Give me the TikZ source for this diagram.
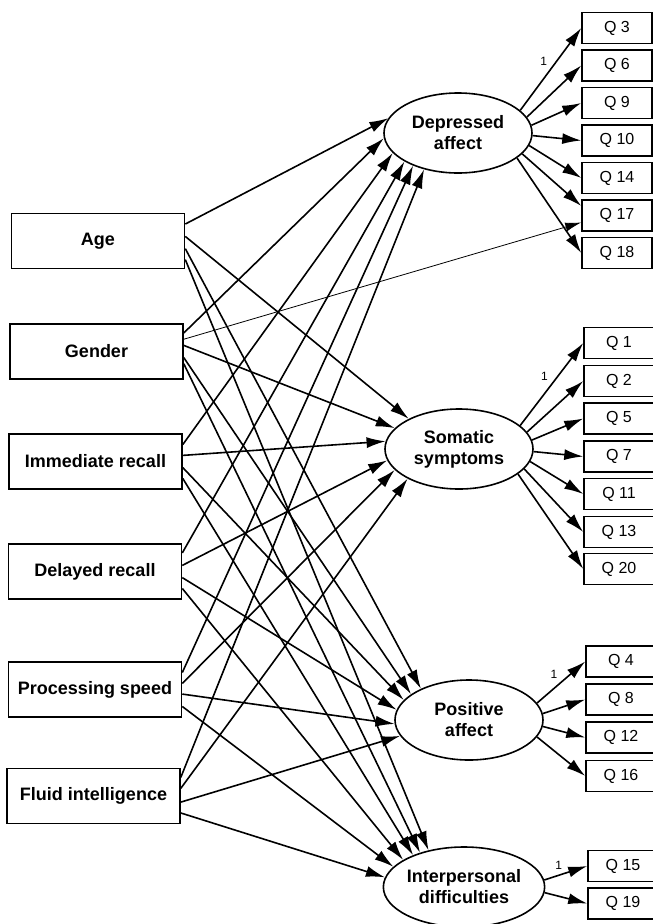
\documentclass[tikz,border=0pt]{standalone}
\usepackage{fontspec}
\setmainfont{Liberation Sans}
\usepackage{tikz}
\usetikzlibrary{shapes.geometric}
\usetikzlibrary{arrows.meta}

\tikzset{
    predictor/.style={draw, line width=1.6pt, minimum width=173pt, minimum height=55pt,
        inner sep=0pt, font=\bfseries\fontsize{18}{21}\selectfont},
    factor/.style={draw, ellipse, line width=1.6pt, minimum width=148pt, minimum height=80pt,
        inner sep=0pt, align=center, font=\bfseries\fontsize{18}{21}\selectfont},
    itembox/.style={draw, line width=1.5pt, minimum width=70pt, minimum height=31pt,
        inner sep=0pt, font=\fontsize{16}{19}\selectfont},
    effect/.style={-{Latex[length=19pt,width=11pt]}, line width=1.6pt},
    fixed/.style={font=\fontsize{12}{14}\selectfont, inner sep=1pt, pos=0.5, above left=2pt}
}

\begin{document}
\begin{tikzpicture}[x=1pt, y=-1pt]
    \useasboundingbox (0,0) rectangle (653,924);

    % observed predictors
    \node[predictor] (age) at (98,241) {Age};
    \node[predictor] (gender) at (96.5,351.5) {Gender};
    \node[predictor] (imm) at (95.5,461.5) {Immediate recall};
    \node[predictor] (del) at (95,571.5) {Delayed recall};
    \node[predictor] (proc) at (95,689.5) {Processing speed};
    \node[predictor] (fluid) at (93.5,796) {Fluid intelligence};

    % latent factors
    \node[factor] (dep) at (458,133) {Depressed\\affect};
    \node[factor] (som) at (459,449) {Somatic\\symptoms};
    \node[factor] (pos) at (469,720) {Positive\\affect};
    \node[factor] (int) at (464,887) {Interpersonal\\difficulties};

    % items
    \foreach \n/\y in {3/28, 6/65.5, 9/103, 10/140.5, 14/178, 17/215.5, 18/253}
        \node[itembox] (q\n) at (617,\y) {Q \n};
    \foreach \n/\y in {1/343, 2/381, 5/418.5, 7/456.5, 11/494, 13/532, 20/569}
        \node[itembox] (q\n) at (619,\y) {Q \n};
    \foreach \n/\y in {4/661.5, 8/699.5, 12/737.5, 16/776}
        \node[itembox] (q\n) at (621,\y) {Q \n};
    \foreach \n/\y in {15/866, 19/903.5}
        \node[itembox] (q\n) at (623,\y) {Q \n};

    % regressions on the factors
    \foreach \p/\a/\f/\b in {
        age/11/dep/168, age/3/som/149, age/-5/pos/147, age/-12/int/134,
        gender/12/dep/184, gender/4/som/162, gender/-4/pos/156, gender/-8/int/142,
        imm/11/dep/197, imm/4/som/174, imm/-4/pos/163, imm/-11/int/148,
        del/12/dep/208, del/4/som/189, del/-4/pos/172, del/-11/int/156,
        proc/11/dep/216, proc/4/som/198, proc/-3/pos/183, proc/-11/int/164,
        fluid/12/dep/227, fluid/5/som/210, fluid/-4/pos/193, fluid/-11/int/173}
        \draw[effect] (\p.\a) -- (\f.\b);
    \draw[-{Latex[length=16pt,width=9pt]}, line width=0.8pt] (gender.8) -- (q17.191);

    % loadings
    \draw[effect] (dep.20) -- node[fixed] {1} (q3.west);
    \foreach \n/\a in {6/13, 9/6, 10/-2, 14/-10, 18/-23}
        \draw[effect] (dep.\a) -- (q\n.west);
    \draw[effect] (dep.-18) -- (q17.165);

    \draw[effect] (som.21) -- node[fixed] {1} (q1.west);
    \foreach \n/\a in {2/14, 5/7, 7/-2, 11/-10, 13/-17, 20/-23}
        \draw[effect] (som.\a) -- (q\n.west);

    \draw[effect] (pos.14) -- node[fixed] {1} (q4.west);
    \foreach \n/\a in {8/5, 12/-5, 16/-14}
        \draw[effect] (pos.\a) -- (q\n.west);

    \draw[effect] (int.5) -- node[fixed] {1} (q15.west);
    \draw[effect] (int.-4) -- (q19.west);
\end{tikzpicture}
\end{document}
